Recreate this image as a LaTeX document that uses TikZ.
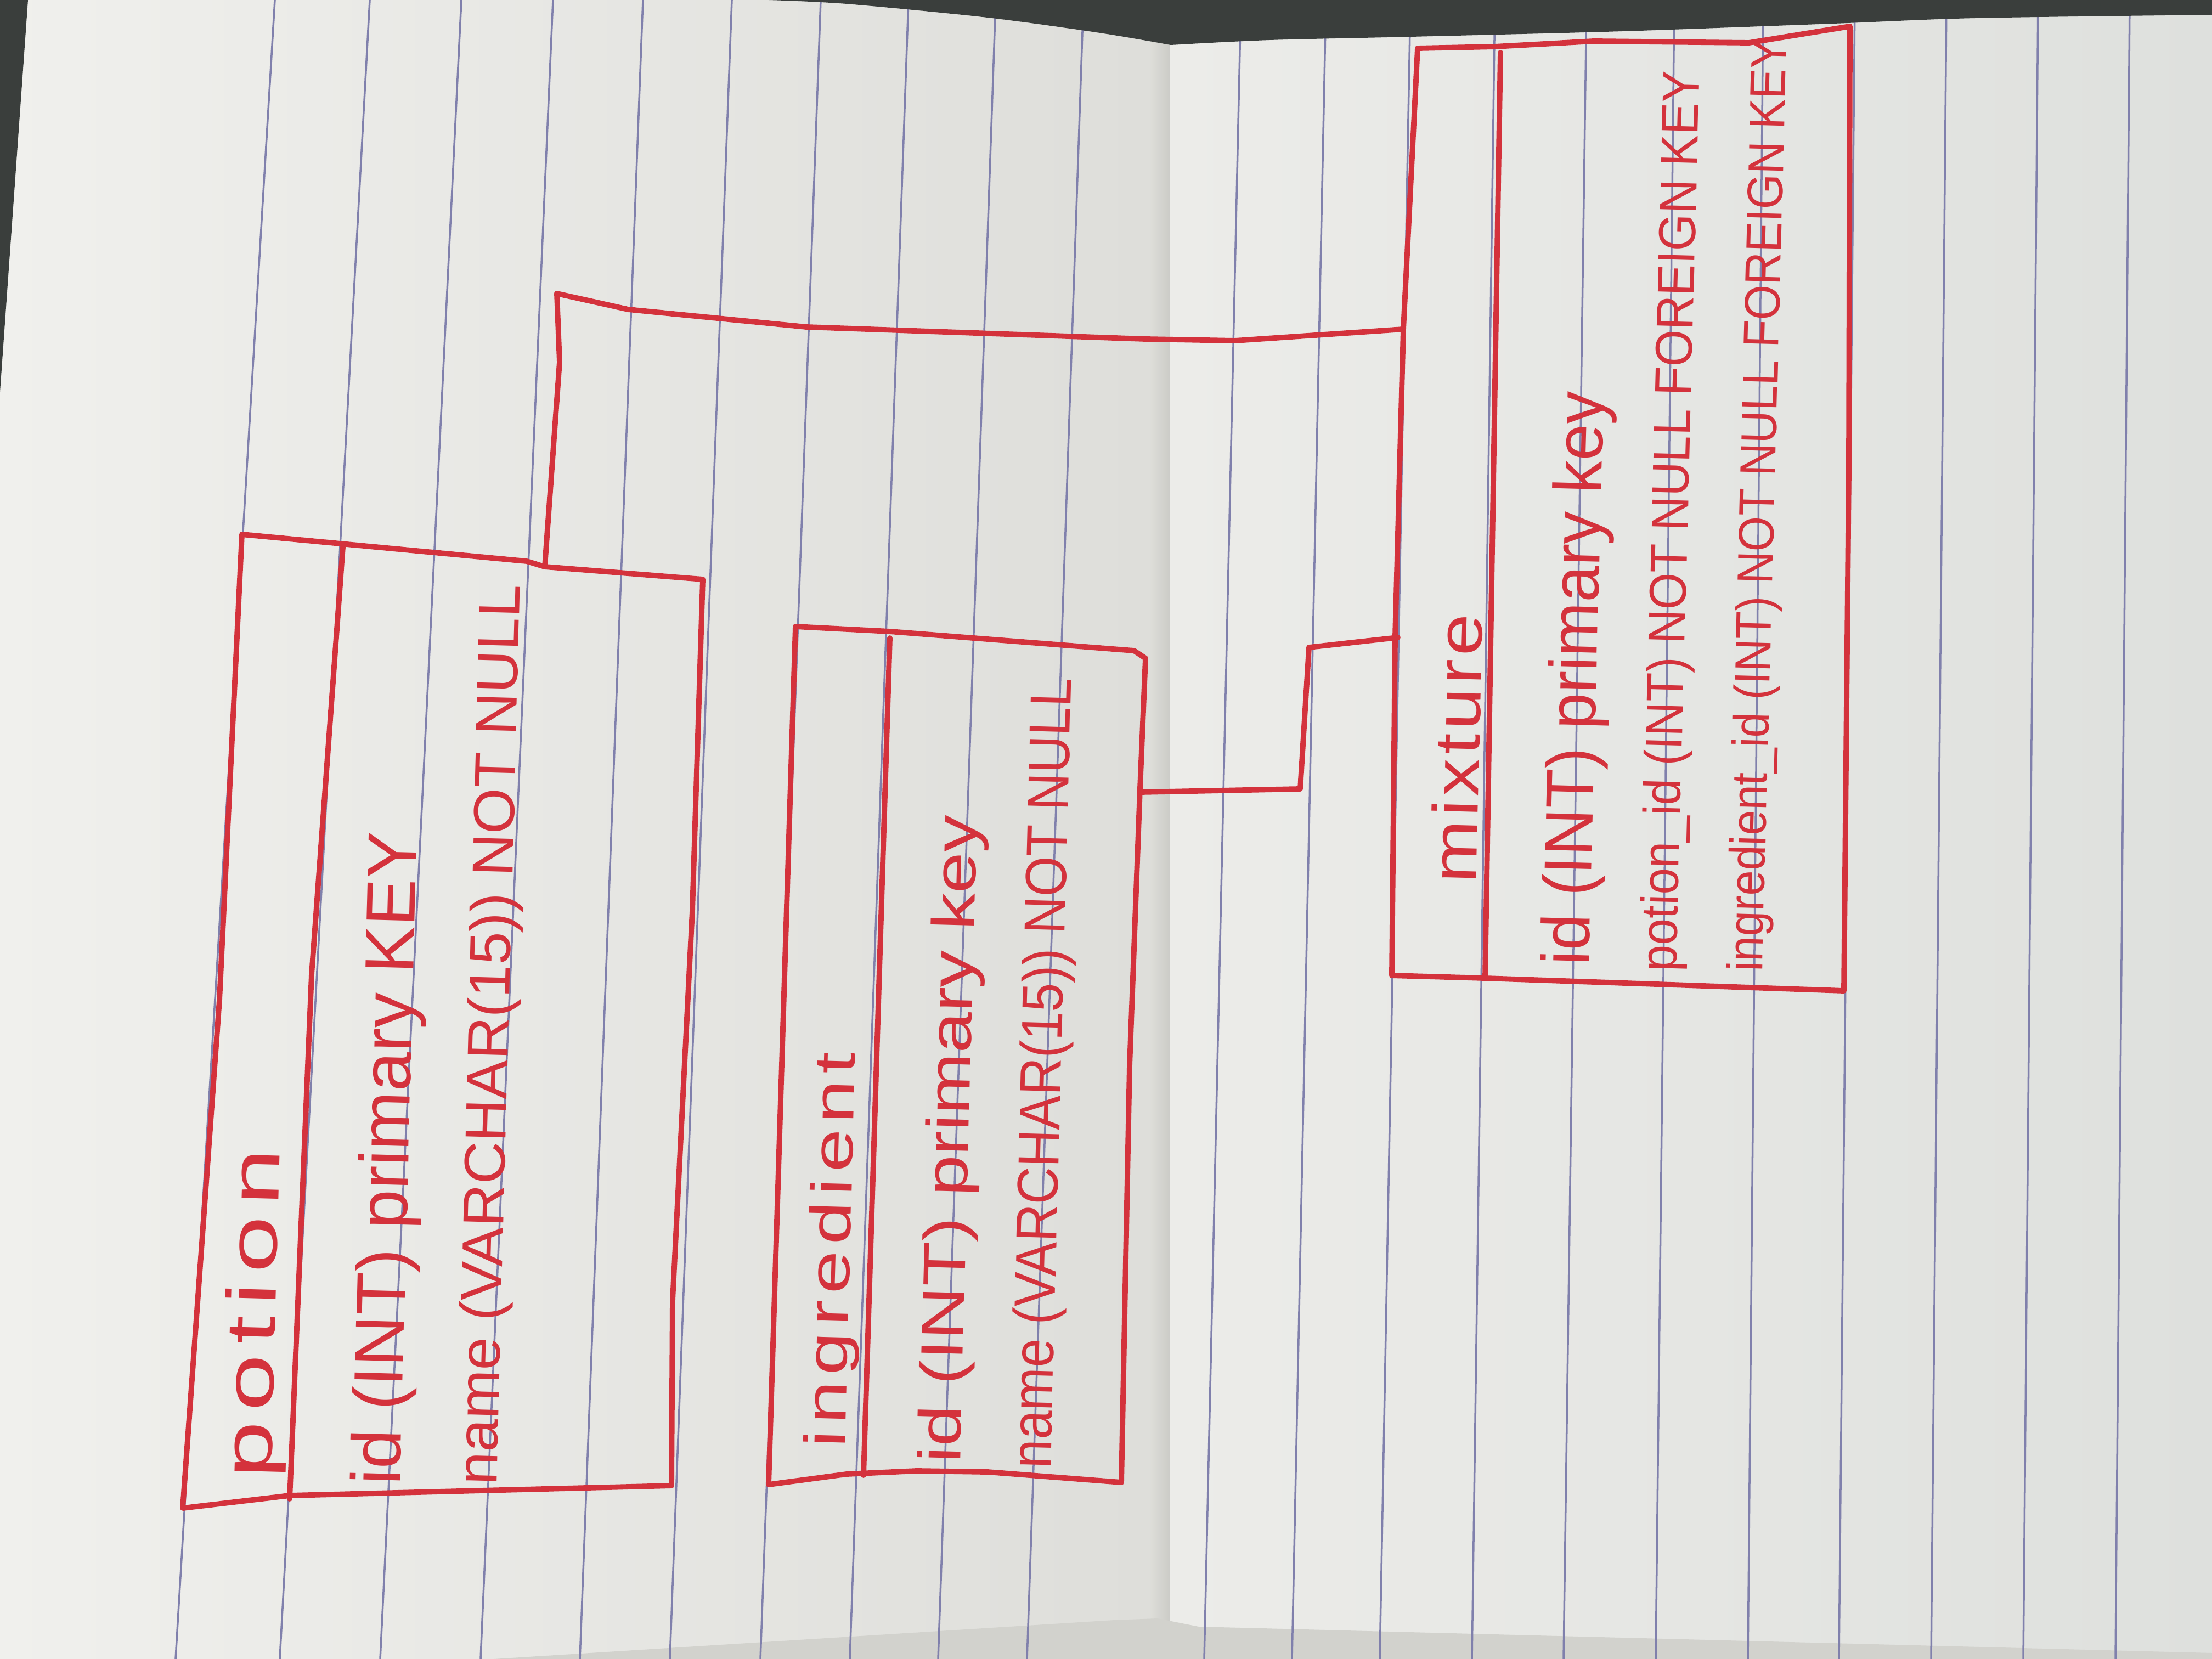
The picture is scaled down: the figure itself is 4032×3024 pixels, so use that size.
\documentclass[tikz,border=0pt]{standalone}
\usepackage{fontspec}
\setmainfont{Liberation Sans}
\usepackage{graphicx}
\definecolor{ink}{RGB}{212,50,60}
\definecolor{ruled}{RGB}{128,128,172}
\definecolor{desk}{RGB}{58,62,60}
\definecolor{paperA}{RGB}{240,240,237}
\definecolor{paperB}{RGB}{222,222,218}
\definecolor{foldD}{RGB}{204,204,199}
\definecolor{paperC}{RGB}{236,236,233}
\definecolor{paperE}{RGB}{222,224,221}
\definecolor{under}{RGB}{210,210,205}
\newcommand{\hwtext}[3]{\resizebox{#2}{\height}{\fontsize{#1}{#1}\selectfont #3}}
\newcommand{\hwtitle}[4]{\resizebox{#2}{\height}{\fontsize{#1}{#1}\selectfont\addfontfeatures{LetterSpace=#3}#4}}
\tikzset{
  inkline/.style={draw=ink, line width=2.8pt, line join=round, line cap=round},
  ruledline/.style={draw=ruled, line width=1pt},
  hw/.style={text=ink, inner sep=0pt, anchor=base west, rotate=88.5},
}
\begin{document}
\begin{tikzpicture}[x=0.01cm,y=-0.01cm]
\useasboundingbox (0,0) rectangle (4032,3024);
% paper
\shade[left color=paperA, right color=paperB] (0,0) rectangle (2095,3024);
\shade[left color=paperB, right color=foldD] (2095,0) rectangle (2132,3024);
\shade[left color=paperC, right color=paperE] (2132,0) rectangle (4032,3024);
\fill[under] (900,3024) -- (2031,2953) -- (2110,2950) -- (2185,2965) -- (4032,3013) -- (4032,3024) -- cycle;
% ruled lines
\foreach \a/\b in {501/320, 674/510, 841/693, 1008/876, 1172/1057, 1334/1221, 1496/1386, 1656/1549, 1815/1710, 1975/1872,
                   2262/2195, 2417/2355, 2571/2515, 2725/2683, 2892/2850, 3052/3018, 3214/3186, 3381/3352, 3548/3520, 3715/3688, 3882/3856}
  \draw[ruledline] (\a,0) -- (\b,3024);
% desk behind the paper
\fill[desk] (0,0) -- (51,0) -- (0,714) -- cycle;
\fill[desk] plot[smooth] coordinates {(1401,0) (1543,7) (1800,32) (2005,60) (2134,82)}
  -- plot[smooth] coordinates {(2134,82) (2314,73) (2571,67) (2957,57) (3342,43) (3600,33) (4032,27)}
  -- (4032,0) -- cycle;

% ---------- potion ----------
\draw[inkline] (441,974) -- (960,1023) -- (993,1033) -- (1281,1056) -- (1262,1660) -- (1226,2370) -- (1224,2708)
  -- (528,2726) -- (333,2749) -- (400,1823) -- cycle;
\draw[inkline] (625,997) -- (568,1776) -- (528,2732);
\node[hw] (potT)  at (494,2696) {\hwtitle{36pt}{6.0cm}{10}{potion}};
\node[hw] (potF1) at (729,2708) {\hwtext{36pt}{11.9cm}{id (INT) primary KEY}};
\node[hw] (potF2) at (905,2708) {\hwtext{30pt}{16.4cm}{name (VARCHAR(15)) NOT NULL}};

% ---------- ingredient ----------
\draw[inkline] (1450,1142) -- (1622,1151) -- (2067,1186) -- (2088,1200) -- (2078,1437) -- (2059,1942) -- (2044,2702)
  -- (1800,2683) -- (1671,2681) -- (1543,2687) -- (1401,2706) -- cycle;
\draw[inkline] (1622,1163) -- (1574,2689);
\node[hw] (ingT)  at (1540,2640) {\hwtitle{30pt}{7.2cm}{8}{ingredient}};
\node[hw] (ingF1) at (1750,2668) {\hwtext{31pt}{11.8cm}{id (INT) primary key}};
\node[hw] (ingF2) at (1915,2678) {\hwtext{30pt}{14.4cm}{name (VARCHAR(15)) NOT NULL}};

% ---------- mixture ----------
\draw[inkline] (2584,88) -- (2725,85) -- (2905,75) -- (3188,78) -- (3372,48) -- (3370,854) -- (3361,1806)
  -- (2707,1783) -- (2537,1778) -- (2543,1160) -- (2558,600) -- cycle;
\draw[inkline] (2735,96) -- (2707,1783);
\node[hw] (mixT)  at (2690,1611) {\hwtitle{33pt}{4.9cm}{5}{mixture}};
\node[hw] (mixF1) at (2896,1761) {\hwtext{35pt}{10.45cm}{id (INT) primary key}};
\node[hw] (mixF2) at (3055,1772) {\hwtext{27pt}{16.4cm}{potion\_id (INT) NOT NULL FOREIGN KEY}};
\node[hw] (mixF3) at (3212,1772) {\hwtext{26pt}{17.0cm}{ingredient\_id (INT) NOT NULL FOREIGN KEY}};

% ---------- connectors ----------
\coordinate (potA) at (993,1033);
\coordinate (mixA) at (2558,600);
\coordinate (ingA) at (2077,1444);
\coordinate (mixB) at (2548,1162);
\draw[inkline] (potA) -- (1020,660) -- (1015,535) -- (1145,564) -- (1470,596) -- (2088,618) -- (2251,621) -- (mixA);
\draw[inkline] (ingA) -- (2370,1438) -- (2386,1180) -- (mixB);
\end{tikzpicture}
\end{document}
